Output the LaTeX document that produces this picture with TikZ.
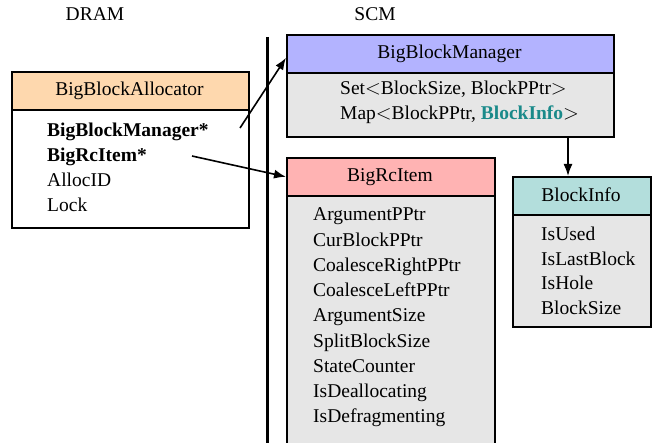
\documentclass[tikz,border=0pt]{standalone}
\usepackage{fontspec}
\setmainfont{Liberation Serif}
\usetikzlibrary{arrows.meta}
\definecolor{peach}{HTML}{FED8AE}
\definecolor{lavender}{HTML}{B3B3FF}
\definecolor{rose}{HTML}{FFB3B3}
\definecolor{aqua}{HTML}{B3DEDC}
\definecolor{panel}{HTML}{E6E6E6}
\definecolor{tealtext}{HTML}{1A8A8A}
\begin{document}
\begin{tikzpicture}[x=1pt,y=-1pt,
  font=\fontsize{19.5}{23}\selectfont,
  hdr/.style={draw=black, line width=1.6pt, anchor=north west, minimum height=38pt, inner sep=0pt},
  bodybox/.style={draw=black, line width=1.6pt, anchor=north west, inner sep=0pt},
  item/.style={anchor=base west, inner sep=0pt},
  title/.style={anchor=base, inner sep=0pt},
  link/.style={line width=1.6pt, -{Latex[length=12pt,width=9pt]}}]
\useasboundingbox (0,0) rectangle (656,443);

% region labels and divider
\node[title] (dram) at (95,21) {DRAM};
\node[title] (scm) at (375,21) {SCM};
\coordinate (divtop) at (267,37);
\coordinate (divbot) at (267,443);
\draw[line width=3pt] (divtop) -- (divbot);

% BigBlockAllocator (DRAM)
\node[bodybox, fill=white, minimum width=237pt, minimum height=118pt] (bbabody) at (11,109) {};
\node[hdr, fill=peach, minimum width=237pt] (bbahead) at (11,71) {};
\node[title] at (129.5,96) {BigBlockAllocator};
\node[item] (bbamgr) at (47,137) {\bfseries BigBlockManager*};
\node[item] (bbarc) at (47,162) {\bfseries BigRcItem*};
\node[item] at (47,187) {AllocID};
\node[item] at (47,212) {Lock};

% BigBlockManager (SCM)
\node[bodybox, fill=panel, minimum width=327pt, minimum height=64pt] (bbmbody) at (286,72) {};
\node[hdr, fill=lavender, minimum width=327pt] (bbmhead) at (286,34) {};
\node[title] at (449.5,59) {BigBlockManager};
\node[item] at (340,95) {Set$<$BlockSize, BlockPPtr$>$};
\node[item] (bbmmap) at (340,120) {Map$<$BlockPPtr, \textcolor{tealtext}{\bfseries BlockInfo}$>$};

% BigRcItem (SCM)
\node[bodybox, fill=panel, minimum width=208pt, minimum height=250pt] (rcbody) at (286,195) {};
\node[hdr, fill=rose, minimum width=208pt] (rchead) at (286,157) {};
\node[title] at (390,182) {BigRcItem};
\foreach \t [count=\i from 0] in {ArgumentPPtr, CurBlockPPtr, CoalesceRightPPtr, CoalesceLeftPPtr, ArgumentSize, SplitBlockSize, StateCounter, IsDeallocating, IsDefragmenting}
  \node[item] at (313,221+25.25*\i) {\t};

% BlockInfo (SCM)
\node[bodybox, fill=panel, minimum width=138pt, minimum height=112pt] (bibody) at (512,214) {};
\node[hdr, fill=aqua, minimum width=138pt] (bihead) at (512,176) {};
\node[title] at (581,202) {BlockInfo};
\node[item] at (541,241) {IsUsed};
\node[item] at (541,266) {IsLastBlock};
\node[item] at (541,290) {IsHole};
\node[item] at (541,315) {BlockSize};

% pointers
\coordinate (mgrtail) at (240,128);
\coordinate (rctail) at (192,156);
\coordinate (infox) at (568,0);
\draw[link] (mgrtail) -- ([yshift=-4pt]bbmhead.west);
\draw[link] (rctail) -- (rchead.west);
\draw[link] (bbmbody.south -| infox) -- (bihead.north -| infox);
\end{tikzpicture}
\end{document}
